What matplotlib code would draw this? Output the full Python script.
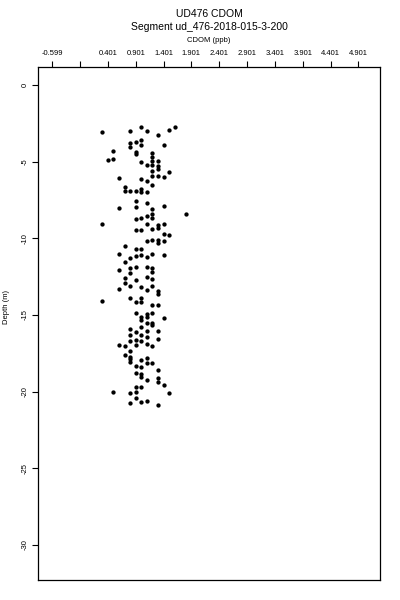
import matplotlib
matplotlib.use("Agg")
import matplotlib.pyplot as plt
import numpy as np

plt.rcParams['font.family'] = ['Liberation Sans', 'DejaVu Sans']

title_lines = ["UD476 CDOM", "Segment ud_476-2018-015-3-200"]
x_label = "CDOM (ppb)"
y_label = "Depth (m)"

cdom = [
    0.3, 0.8, 1.0, 1.1, 1.3, 1.5, 1.6, 0.8, 0.8, 0.9, 1.0, 1.0, 1.4, 0.9, 0.9, 0.5,
    0.4, 0.5, 1.0, 1.1, 1.2, 1.2, 1.2, 1.2, 1.3, 1.3, 1.3, 1.2, 1.2, 1.5, 0.6, 1.0,
    1.1, 1.3, 1.4, 1.2, 0.7, 0.7, 0.8, 0.9, 1.0, 1.0, 1.1, 0.9, 0.9, 1.1, 0.6, 1.4,
    1.2, 1.2, 1.2, 1.8, 0.9, 1.0, 1.1, 0.3, 1.1, 1.3, 1.3, 1.4, 0.9, 1.0, 1.2, 1.4,
    1.5, 1.1, 1.2, 1.3, 1.3, 1.4, 0.7, 0.9, 1.0, 0.6, 0.8, 0.9, 1.0, 1.1, 1.2, 1.4,
    0.7, 0.6, 0.8, 0.8, 0.9, 1.1, 1.2, 1.2, 0.7, 0.9, 1.1, 1.2, 0.7, 0.8, 0.6, 1.0,
    1.1, 1.2, 1.3, 1.3, 0.3, 0.8, 0.9, 1.0, 1.0, 1.2, 1.3, 0.9, 1.0, 1.0, 1.1, 1.1,
    1.2, 1.4, 1.1, 1.2, 1.2, 1.0, 0.8, 0.9, 1.1, 1.3, 0.8, 1.0, 1.1, 0.8, 0.9, 1.0,
    1.3, 0.6, 0.7, 0.9, 1.1, 1.2, 0.8, 0.7, 0.8, 0.8, 0.8, 1.0, 1.1, 1.1, 1.2, 0.9,
    1.0, 1.3, 0.9, 1.0, 1.0, 1.1, 1.3, 1.3, 1.4, 0.9, 1.0, 0.5, 0.8, 0.9, 1.5, 0.9,
    0.8, 1.0, 1.1, 1.3,
]
depth = [
    -3.07, -2.98, -2.72, -2.98, -3.24, -2.94, -2.72, -3.78, -4.05, -3.72, -3.59, -3.91, -3.91, -4.35, -4.50, -4.33,
    -4.89, -4.81, -5.02, -5.24, -4.44, -4.70, -4.95, -5.20, -4.94, -5.30, -5.50, -5.60, -5.95, -5.68, -6.07, -6.11,
    -6.24, -5.92, -6.00, -6.52, -6.67, -6.93, -6.91, -6.93, -6.76, -7.00, -6.98, -7.57, -7.94, -7.68, -8.02, -7.87,
    -8.09, -8.40, -8.68, -8.41, -8.74, -8.66, -8.55, -9.09, -9.07, -9.13, -9.33, -9.09, -9.44, -9.44, -9.37, -9.72,
    -9.77, -10.20, -10.11, -10.11, -10.31, -10.20, -10.52, -10.72, -10.70, -11.02, -11.29, -11.14, -11.11, -11.24, -11.02, -11.07,
    -11.57, -12.07, -11.94, -12.24, -11.85, -11.89, -11.94, -12.18, -12.57, -12.72, -12.51, -12.64, -12.94, -13.11, -13.31, -13.16,
    -13.37, -13.11, -13.44, -13.63, -14.07, -13.87, -14.14, -13.87, -14.18, -14.35, -14.35, -14.85, -15.11, -15.33, -14.94, -15.11,
    -14.85, -15.22, -15.51, -15.51, -15.66, -15.81, -15.94, -16.09, -16.05, -16.03, -16.31, -16.29, -16.42, -16.70, -16.63, -16.68,
    -16.59, -16.96, -17.03, -16.98, -16.91, -17.03, -17.33, -17.63, -17.72, -17.90, -18.05, -17.94, -17.79, -18.12, -18.12, -18.31,
    -18.42, -18.59, -18.77, -18.85, -19.03, -19.24, -19.13, -19.35, -19.57, -19.68, -19.68, -20.00, -20.11, -20.00, -20.07, -20.44,
    -20.76, -20.66, -20.61, -20.87,
]

x_ticks = [-0.599, -0.099, 0.401, 0.901, 1.401, 1.901, 2.401, 2.901, 3.401, 3.901, 4.401, 4.901]
x_tick_labels = ["-0.599", "", "0.401", "0.901", "1.401", "1.901", "2.401", "2.901",
                 "3.401", "3.901", "4.401", "4.901"]
y_ticks = [0, -5, -10, -15, -20, -25, -30]
y_tick_labels = ["0", "-5", "-10", "-15", "-20", "-25", "-30"]

fig = plt.figure(figsize=(4, 6), dpi=100)
ax = fig.add_axes([38/400, 1 - 580/600, (380-38)/400, (580-67)/600])

ax.plot(cdom, depth, linestyle='none', marker='o', ms=3.1, color='black',
        markeredgewidth=0)

ax.set_xlim(-0.856, 5.29)
ax.set_ylim(-32.29, 1.17)

ax.xaxis.tick_top()
ax.set_xticks(x_ticks)
ax.set_xticklabels(x_tick_labels, fontsize=5.5)
ax.tick_params(axis='x', direction='out', length=4, width=0.8, pad=3)
ax.set_yticks(y_ticks)
ax.set_yticklabels(y_tick_labels, fontsize=5.5, rotation=90, va='center')
ax.tick_params(axis='y', direction='out', length=4, width=0.8, pad=3)
for s in ax.spines.values():
    s.set_linewidth(0.9)

fig.text(209/400, 1 - 14/600, title_lines[0], ha='center', va='center', fontsize=7.5)
fig.text(209/400, 1 - 27/600, title_lines[1], ha='center', va='center', fontsize=7.5)
fig.text(209/400, 1 - 40/600, x_label, ha='center', va='center', fontsize=5.5)
fig.text(7/400, 1 - 307/600, y_label, ha='center', va='center', fontsize=5.5, rotation=90)

fig.savefig("out.png", dpi=100)
